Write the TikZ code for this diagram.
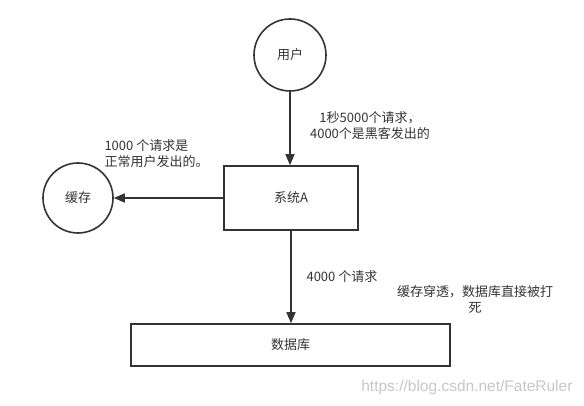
\documentclass[tikz,border=0pt]{standalone}
\usepackage{fontspec}
\setmainfont{Noto Sans CJK SC}
\newfontfamily\markfont{Liberation Sans}
\usetikzlibrary{arrows.meta}
\definecolor{ink}{HTML}{333333}

\begin{document}
\begin{tikzpicture}[x=1pt, y=-1pt, >={Triangle[length=11pt,width=9pt]},
	every node/.style={font=\fontsize{13}{16}\selectfont, text=ink},
	actor/.style={circle, draw=ink, line width=1.6pt, minimum size=72pt, inner sep=0pt},
	block/.style={rectangle, draw=ink, line width=1.6pt, inner sep=0pt},
	flow/.style={->, draw=ink, line width=1.6pt}]

	\useasboundingbox (0,0) rectangle (584,406);

	% === NODES === (((
	\node [actor] (user) at (290,55) {用户};
	\node [block, minimum width=134pt, minimum height=64pt] (sysA) at (291,198) {系统A};
	\node [actor, minimum size=70pt] (cache) at (78,198) {缓存};
	\node [block, minimum width=319pt, minimum height=42pt] (db) at (290.5,345) {数据库};
	% )))

	% === CONNECTORS === (((
	\draw [flow] (user) -- (user |- sysA.north);
	\draw [flow] (sysA) -- (cache);
	\draw [flow] (sysA.south) -- (sysA.south |- db.north);
	% )))

	% === LABELS === (((
	\node [align=center] (userNote) at (370,126) {1秒5000个请求，\\4000个是黑客发出的};
	\node [align=left, anchor=west] (cacheNote) at (101,153.5) {1000 个请求是\\正常用户发出的。};
	\node [anchor=west] (dbNote) at (303,277) {4000 个请求};
	\node [align=center] (deadNote) at (475,299.5) {缓存穿透，数据库直接被打\\死};
	\node [anchor=east, text=black!22, font=\markfont\fontsize{15.5}{17}\selectfont] (mark) at (576,387) {https://blog.csdn.net/FateRuler};
	% )))

\end{tikzpicture}
\end{document}
